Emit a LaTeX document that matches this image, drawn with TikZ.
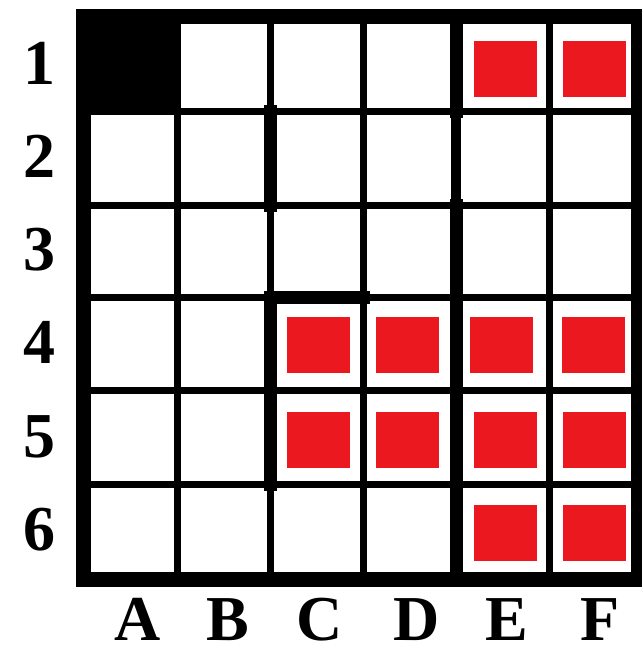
\documentclass[tikz,border=0pt]{standalone}
\usepackage{fontspec}
\setmainfont{Liberation Serif}
\definecolor{sqred}{RGB}{236,24,32}
\begin{document}
\begin{tikzpicture}[x=1pt,y=-1pt,
  thinline/.style={line width=7pt},
  midline/.style={line width=10pt},
  thickline/.style={line width=13pt,line cap=rect},
  border/.style={line width=15pt,line join=miter},
  redsq/.style={fill=sqred,draw=none,minimum width=63pt,minimum height=56pt,inner sep=0pt},
  lbl/.style={font=\fontsize{64}{64}\selectfont\bfseries,anchor=base,inner sep=0pt}]
\useasboundingbox[fill=white] (0,0) rectangle (641,647);
% black cell A1
\fill[black] (83,17) rectangle (177,112);
% thin grid
\foreach \x in {177,270,363,456,549}{\draw[thinline] (\x,17) -- (\x,579);}
\foreach \y in {112,205,297,390,484}{\draw[thinline] (83,\y) -- (638,\y);}
% thick walls
\draw[thickline] (270,112) -- (270,205);
\draw[thickline] (270,297) -- (270,484);
\draw[thickline] (270,297) -- (363,297);
\draw[thickline] (456,17) -- (456,112);
\draw[midline] (456,112) -- (456,205);
\draw[thickline] (456,205) -- (456,579);
% outer border
\draw[border] (83,17) rectangle (638,579);
% red squares
\node[redsq] (e1) at (505,69.5) {};
\node[redsq] (f1) at (594,69.5) {};
\node[redsq] (c4) at (318,344.5) {};
\node[redsq] (d4) at (407,344.5) {};
\node[redsq] (e4) at (501,344.5) {};
\node[redsq] (f4) at (593,344.5) {};
\node[redsq] (c5) at (318,440) {};
\node[redsq] (d5) at (407,440) {};
\node[redsq] (e5) at (505,440) {};
\node[redsq] (f5) at (594,440) {};
\node[redsq] (e6) at (505,532.5) {};
\node[redsq] (f6) at (594,532.5) {};
% row labels
\node[lbl] (r1) at (39,85) {1};
\node[lbl] (r2) at (39,177) {2};
\node[lbl] (r3) at (39,270) {3};
\node[lbl] (r4) at (39,363) {4};
\node[lbl] (r5) at (39,457) {5};
\node[lbl] (r6) at (39,550) {6};
% column labels
\node[lbl] (ca) at (138,640) {A};
\node[lbl] (cb) at (228,640) {B};
\node[lbl] (cc) at (320,640) {C};
\node[lbl] (cd) at (417,640) {D};
\node[lbl] (ce) at (507,640) {E};
\node[lbl] (cf) at (600,640) {F};
\end{tikzpicture}
\end{document}
